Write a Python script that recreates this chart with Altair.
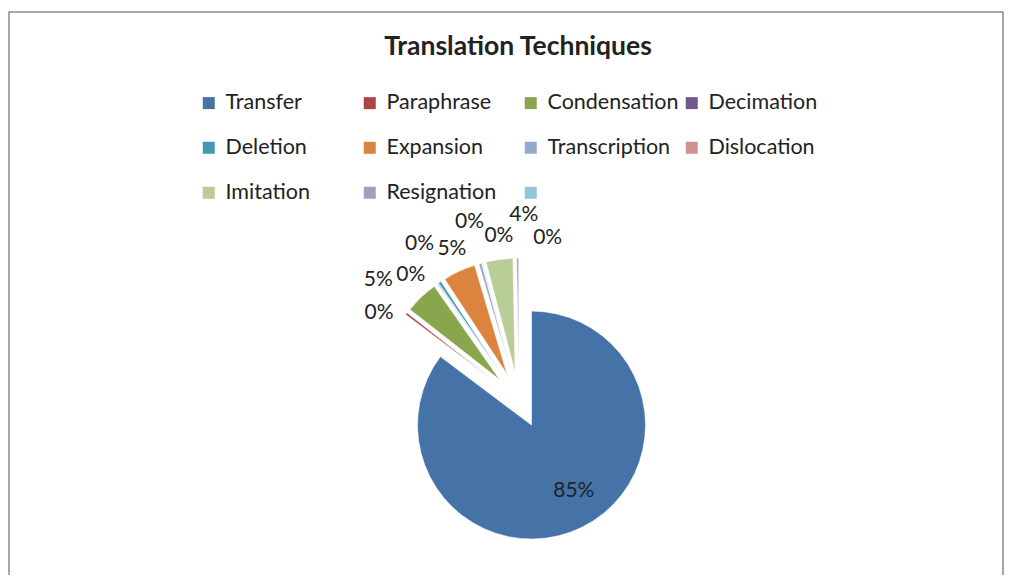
import math
import altair as alt
import pandas as pd

categories = ["Transfer", "Paraphrase", "Condensation", "Decimation", "Deletion",
              "Expansion", "Transcription", "Dislocation", "Imitation", "Resignation", " "]
values = [85.0, 0.3, 4.7, 0.1, 0.4, 4.6, 0.4, 0.1, 3.8, 0.3, 0.0]
colors = ["#4572A7", "#AA4643", "#89A54E", "#71588F", "#4198AF", "#DB843D",
          "#93A9CF", "#D19392", "#B9CD96", "#A99BBD", "#92C5D8"]

df = pd.DataFrame({"cat": categories, "value": values, "idx": list(range(len(categories)))})
total = sum(values)

W, H = 996, 567
CX, CY, R, D = 511, 392, 114, 28
FONT = "Lato"

base = alt.Chart(df).transform_window(
    cum="sum(value)", sort=[alt.SortField("idx")], frame=[None, 0]
).transform_calculate(
    c0="datum.cum - datum.value",
    mid=f"(datum.cum - datum.value / 2) / {total} * 2 * PI",
).transform_calculate(
    ex=f"{CX} + {D} * sin(datum.mid)",
    ey=f"{CY} - {D} * cos(datum.mid)",
).transform_filter("datum.value > 0")

arcs = base.mark_arc(radius=R, stroke="white", strokeWidth=0.6).encode(
    x=alt.X("ex:Q", scale=None, axis=None),
    y=alt.Y("ey:Q", scale=None, axis=None),
    theta=alt.Theta("c0:Q", scale=alt.Scale(domain=[0, total], range=[0, 2 * math.pi]), stack=None),
    theta2="cum:Q",
    color=alt.Color(
        "cat:N",
        scale=alt.Scale(domain=categories, range=colors),
        sort=None,
        legend=alt.Legend(
            orient="none", legendX=190, legendY=84, columns=4, direction="horizontal",
            gridAlign="all",
            symbolType="square", symbolSize=144, symbolStrokeWidth=0,
            labelFont=FONT, labelFontSize=21.5, labelColor="#222222", labelOffset=6,
            columnPadding=2, rowPadding=22, title=None, labelLimit=300,
        ),
    ),
    order=alt.Order("idx:Q"),
)

# small-slice labels are fanned out above the exploded slices, staggered on two radii
labels = base.transform_calculate(
    label=f"format(datum.value / {total} * 100, '.0f') + '%'",
    la="datum.idx == 0 ? datum.mid - 0.11 : (302 + (datum.idx - 1) * 8.5) * PI / 180",
    lr="datum.idx == 0 ? 78 : ((datum.idx - 1) % 2 == 1 ? 185 : 165)",
).transform_calculate(
    lx=f"(datum.idx == 0 ? datum.ex : {CX}) + datum.lr * sin(datum.la)",
    ly=f"(datum.idx == 0 ? datum.ey : {CY}) - datum.lr * cos(datum.la)",
).mark_text(font=FONT, fontSize=21, color="#222222", align="center", baseline="middle").encode(
    x=alt.X("lx:Q", scale=None, axis=None),
    y=alt.Y("ly:Q", scale=None, axis=None),
    text="label:N",
)

frame = alt.Chart(alt.Data(values=[{}])).mark_rect(
    fill="transparent", stroke="#8c8c8c", strokeWidth=1.5
).encode(
    x=alt.value(1), x2=alt.value(W - 1), y=alt.value(4), y2=alt.value(H + 40)
)

chart = alt.layer(frame, arcs, labels).properties(
    width=W, height=H,
    autosize=alt.AutoSizeParams(type="none"),
    padding=0,
    title=alt.Title("Translation Techniques", font=FONT, fontSize=26.5, fontWeight="bold",
                    color="#222222", anchor="middle", dx=12, dy=56),
).configure_view(stroke=None)

chart.save("out.html", embed_options={"renderer": "svg", "actions": False})
